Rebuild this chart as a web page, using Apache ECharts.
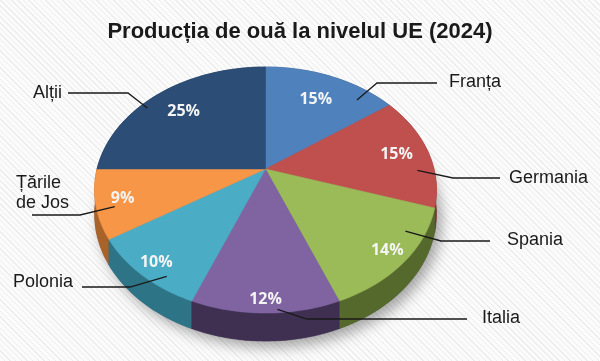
<!DOCTYPE html>
<html><head><meta charset="utf-8">
<script src="https://cdn.jsdelivr.net/npm/echarts@6/dist/echarts.min.js"></script>
<style>
html,body{margin:0;padding:0;width:600px;height:361px;overflow:hidden;
background: repeating-linear-gradient(45deg,#fbfbfb 0px,#fbfbfb 3px,#ededed 3px,#ededed 4px);}
#c{width:600px;height:361px;}
</style></head><body><div id="c"></div>
<script>
// ---- data ----
const chartTitle = 'Producția de ouă la nivelul UE (2024)';
const categories = ['Franța', 'Germania', 'Spania', 'Italia', 'Polonia', 'Țările de Jos', 'Alții'];
const shares = [15, 15, 14, 12, 10, 9, 25];

// ---- styles ----
const topColors  = ['#4f81bd', '#c0504d', '#9bbb59', '#8064a2', '#4bacc6', '#f79646', '#2c4d75'];
const sideColors = ['#2f5078', '#7e3330', '#55692c', '#3f3052', '#2d7487', '#a8622a', '#1b3050'];
// label layout (text anchor, leader elbow/end, anchor within slice)
const labelLayout = [
  {x: 449, y: 82,  align: 'left',  lineY: 83,  elbowX: 377, endX: 437, anchor: 0.8,  r: 0.88},
  {x: 509, y: 178, align: 'left',  lineY: 178, elbowX: 453, endX: 500, anchor: 0.68, r: 0.9},
  {x: 507, y: 240, align: 'left',  lineY: 241, elbowX: 441, endX: 490, anchor: 0.28, r: 0.9},
  {x: 482, y: 318, align: 'left',  lineY: 319, elbowX: 307, endX: 467, anchor: 0.42, r: 0.98},
  {x: 73,  y: 282, align: 'right', lineY: 287, elbowX: 130, endX: 82,  anchor: 0.32, r: 0.93},
  {x: 16,  y: 193, align: 'left',  lineY: 215, elbowX: 80,  endX: 32,  anchor: 0.4,  r: 0.9},
  {x: 62,  y: 93,  align: 'right', lineY: 93,  elbowX: 128, endX: 68,  anchor: 0.4,  r: 0.95}
];

// perspective projection of the tilted disk
const D = 5.85, B = 4088, A = -529.8, C = 985.6, CX = 265.5, T = 136;
function proj(X, Z, drop) { const d = D - Z; return [CX + C * X / d, A + B / d + (drop ? T / d : 0)]; }
function pt(angDeg, r, drop) { const a = angDeg * Math.PI / 180; return proj(r * Math.sin(a), -r * Math.cos(a), drop); }

const total = shares.reduce((s, v) => s + v, 0);
const starts = []; let acc = 0; shares.forEach(v => { starts.push(acc); acc += v; });

function renderItem(params, api) {
  const i = params.dataIndex;
  const v = api.value(0);
  const a0 = starts[i] / total * 360, a1 = (starts[i] + v) / total * 360;
  const n = Math.max(4, Math.ceil((a1 - a0) / 1.5));
  const topArc = [], botArc = [];
  for (let k = 0; k <= n; k++) {
    const a = a0 + (a1 - a0) * k / n;
    topArc.push(pt(a, 1, false));
    botArc.push(pt(a, 1, true));
  }
  const children = [];
  if (i === 0) {
    const full = [];
    for (let k = 0; k <= 240; k++) full.push(pt(k * 1.5, 1, true));
    children.push({type: 'polygon', z2: 1, shape: {points: full},
      style: {fill: '#666', shadowBlur: 14, shadowOffsetX: 5, shadowOffsetY: 6, shadowColor: 'rgba(0,0,0,0.35)'}});
  }
  const midA = (a0 + a1) / 2;
  const zMid = -Math.cos(midA * Math.PI / 180);
  children.push({type: 'polygon', z2: Math.round(10 + zMid * 5 + 5),
    shape: {points: topArc.concat(botArc.slice().reverse())},
    style: {fill: sideColors[i], stroke: sideColors[i], lineWidth: 0.5}});
  children.push({type: 'polygon', z2: 50,
    shape: {points: [pt(0, 0, false)].concat(topArc)},
    style: {fill: topColors[i], stroke: topColors[i], lineWidth: 0.5}});
  // percent label
  const pr = 0.82 + 0.1 * zMid;
  const pp = pt(midA, pr, false);
  children.push({type: 'text', z2: 80, x: pp[0], y: pp[1],
    style: {text: v + '%', fill: '#f4f4f4', fontFamily: 'Open Sans', fontWeight: 'bold', fontSize: 16,
      align: 'center', verticalAlign: 'middle'}});
  // leader and category label
  const L = labelLayout[i];
  const sp = pt(a0 + (a1 - a0) * L.anchor, L.r, false);
  children.push({type: 'polyline', z2: 90,
    shape: {points: [sp, [L.elbowX, L.lineY], [L.endX, L.lineY]]},
    style: {stroke: '#1a1a1a', lineWidth: 1.3, fill: null}});
  const name = categories[i].replace(' de ', '\nde ');
  children.push({type: 'text', z2: 90, x: L.x, y: L.y,
    style: {text: name, fill: '#1a1a1a', fontFamily: 'Liberation Sans', fontSize: 18, lineHeight: 20,
      align: L.align, verticalAlign: 'middle'}});
  return {type: 'group', children};
}

const chart = echarts.init(document.getElementById('c'), null, {renderer: 'canvas'});
chart.setOption({
  animation: false,
  title: {text: chartTitle, left: 'center', top: 16,
    textStyle: {fontFamily: 'Liberation Sans', fontWeight: 'bold', fontSize: 22, color: '#1a1a1a'}},
  series: [{
    type: 'custom',
    coordinateSystem: 'none',
    silent: true,
    renderItem: renderItem,
    data: shares.map((v, i) => ({name: categories[i], value: v}))
  }]
});
</script></body></html>
